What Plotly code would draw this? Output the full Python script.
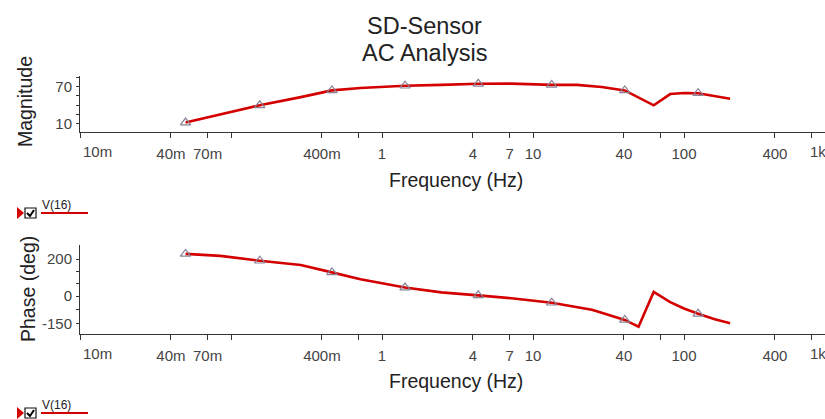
import plotly.graph_objects as go

# ---- data ----
freq_hz = [0.05, 0.085, 0.155, 0.29, 0.466, 0.72, 1.42, 2.47, 4.34, 7.2, 13.3, 19.5,
           24.5, 28.5, 40.5, 50, 63, 81, 100, 124, 160, 202]
magnitude = [11.5, 24.6, 39.7, 53, 64, 68, 71.6, 73, 74.8, 75, 73, 73,
             71.6, 69.5, 64, 52, 39.7, 58, 59.7, 59.4, 55, 50.5]
phase_deg = [228, 217, 191, 168, 128, 91, 46, 20, 4, -12, -36, -58,
             -74, -90, -129, -166, 22, -33, -67, -96, -125, -147]
marker_idx = [0, 2, 4, 6, 8, 10, 14, 19]

x_tickvals = [0.01, 0.04, 0.07, 0.1, 0.4, 0.7, 1, 4, 7, 10, 40, 70, 100, 400, 700]
x_ticktext = ["", "40m", "70m", "", "400m", "", "1", "4", "7", "10", "40", "", "100", "400", ""]
mag_tickvals = [85, 70, 55, 40, 25, 10]
mag_ticktext = ["", "70", "", "", "", "10"]
ph_tickvals = [200, 133, 67, 0, -75, -150]
ph_ticktext = ["200", "", "", "0", "", "-150"]

W, H = 825, 419
L = 80
FONT = "Liberation Sans, Arial, sans-serif"
RED = "#d40000"
MK = "#8a8296"
AX = "#333333"
TK = "#444444"


def px(xp):  # page px -> paper x
    return (xp - L) / (W - L)


def py(yp):  # page px -> paper y
    return (H - yp) / H


fig = go.Figure()

for xa, ya, vals in (("x", "y", magnitude), ("x2", "y2", phase_deg)):
    fig.add_trace(go.Scatter(x=freq_hz, y=vals, mode="lines", xaxis=xa, yaxis=ya,
                             line=dict(color=RED, width=2.6), showlegend=False,
                             hoverinfo="skip"))
    fig.add_trace(go.Scatter(x=[freq_hz[i] for i in marker_idx],
                             y=[vals[i] for i in marker_idx], mode="markers",
                             xaxis=xa, yaxis=ya, showlegend=False,
                             marker=dict(symbol="triangle-up-open", size=9,
                                         color=MK, line=dict(width=1.2, color=MK))))

xr = [-2, -2 + (W - L) / 151.0]
xcommon = dict(type="log", range=xr, tickvals=x_tickvals, ticktext=x_ticktext,
               showgrid=False, zeroline=False, showline=True, linecolor=AX, linewidth=1,
               ticks="outside", ticklen=5, tickcolor=AX,
               tickfont=dict(family=FONT, size=15, color=TK),
               ticklabelstandoff=3)
ycommon = dict(showgrid=False, zeroline=False, showline=True, linecolor=AX, linewidth=1,
               ticks="outside", ticklen=3, tickcolor=AX,
               tickfont=dict(family=FONT, size=15, color=TK),
               ticklabelstandoff=1)

fig.update_layout(
    width=W, height=H,
    margin=dict(l=L, r=0, t=0, b=0),
    paper_bgcolor="white", plot_bgcolor="white",
    font=dict(family=FONT),
    xaxis=dict(domain=[0, 1], anchor="y", **xcommon),
    yaxis=dict(domain=[py(132), py(76)], anchor="x", range=[-3.9, 87.5],
               tickvals=mag_tickvals, ticktext=mag_ticktext, **ycommon),
    xaxis2=dict(domain=[0, 1], anchor="y2", **xcommon),
    yaxis2=dict(domain=[py(334), py(245)], anchor="x2", range=[-205, 276],
                tickvals=ph_tickvals, ticktext=ph_ticktext, **ycommon),
)

ann = []


def text(x, y, s, size, color="#222222", xanchor="center", angle=0):
    ann.append(dict(x=px(x), y=py(y), xref="paper", yref="paper", text=s, showarrow=False,
                    xanchor=xanchor, yanchor="middle", textangle=angle,
                    font=dict(family=FONT, size=size, color=color)))


text(424, 26, "SD-Sensor", 23.5)
text(424, 53, "AC Analysis", 23.5)
text(25, 102, "Magnitude", 19.5, angle=-90)
text(28, 289, "Phase (deg)", 19.5, angle=-90)
text(456, 180, "Frequency (Hz)", 19.5)
text(456, 381, "Frequency (Hz)", 19.5)
for yl in (151, 353):
    text(81, yl, "10m", 15, color=TK, xanchor="left")
    text(808, yl, "1k", 15, color=TK, xanchor="left")
for yt in (205, 405):
    text(40, yt, "V(16)", 12, color="#222222", xanchor="left")

shapes = []
for yc in (213, 413):
    # red arrow
    shapes.append(dict(type="path", xref="paper", yref="paper",
                       path=f"M {px(17)} {py(yc-6)} L {px(24)} {py(yc)} L {px(17)} {py(yc+6)} Z",
                       fillcolor=RED, line=dict(width=0)))
    # checkbox
    shapes.append(dict(type="rect", xref="paper", yref="paper",
                       x0=px(25), x1=px(36), y0=py(yc-5), y1=py(yc+5),
                       line=dict(color="#111111", width=1.2), fillcolor="white"))
    shapes.append(dict(type="path", xref="paper", yref="paper",
                       path=f"M {px(27)} {py(yc)} L {px(30)} {py(yc+3)} L {px(34)} {py(yc-3)}",
                       line=dict(color="#000000", width=2)))
    # legend line
    shapes.append(dict(type="line", xref="paper", yref="paper",
                       x0=px(41), x1=px(88), y0=py(yc), y1=py(yc),
                       line=dict(color=RED, width=2)))

fig.update_layout(annotations=ann, shapes=shapes)
fig.write_html("out.html",
               config={"displayModeBar": False},
               post_script="document.body.style.margin='0px';"
                           "document.body.style.overflow='hidden';")
